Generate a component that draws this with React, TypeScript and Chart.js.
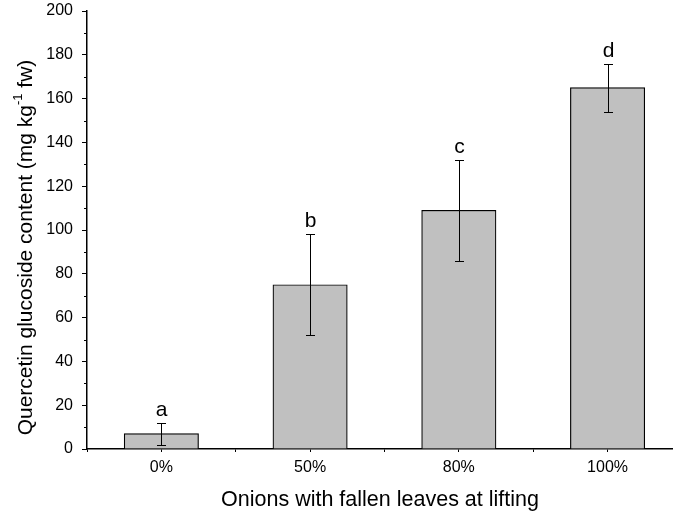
import React, { useEffect, useRef } from 'react';
import { Chart, registerables } from 'chart.js';

Chart.register(...registerables);

const categories = ['0%', '50%', '80%', '100%'];
const means = [7, 75, 109, 165];
const errors = [5, 23, 23, 11];
const letters = ['a', 'b', 'c', 'd'];
const xTitle = 'Onions with fallen leaves at lifting';
const yTitleMain = 'Quercetin glucoside content (mg kg';
const yTitleSup = '-1';
const yTitleEnd = ' fw)';

const FONT = "'Liberation Sans', Arial, sans-serif";

const annotPlugin = {
  id: 'annot',
  afterDraw(chart: any) {
    const { ctx, chartArea } = chart;
    const x = chart.scales.x;
    const y = chart.scales.y;
    ctx.save();
    ctx.strokeStyle = '#000';
    ctx.fillStyle = '#000';
    ctx.lineWidth = 1;
    // error bars + letters
    means.forEach((m, i) => {
      const px = Math.round(x.getPixelForValue(i + 1)) + 0.5;
      const top = Math.round(y.getPixelForValue(m + errors[i])) + 0.5;
      const bot = Math.round(y.getPixelForValue(m - errors[i])) + 0.5;
      ctx.beginPath();
      ctx.moveTo(px, top);
      ctx.lineTo(px, bot);
      ctx.moveTo(px - 4.5, top);
      ctx.lineTo(px + 4.5, top);
      ctx.moveTo(px - 4.5, bot);
      ctx.lineTo(px + 4.5, bot);
      ctx.stroke();
      ctx.font = `21px ${FONT}`;
      ctx.textAlign = 'center';
      ctx.textBaseline = 'alphabetic';
      ctx.fillText(letters[i], px, top - 8);
    });
    // minor y ticks
    ctx.beginPath();
    for (let v = 10; v < 200; v += 20) {
      const py = Math.round(y.getPixelForValue(v)) + 0.5;
      ctx.moveTo(chartArea.left - 3, py);
      ctx.lineTo(chartArea.left, py);
    }
    ctx.stroke();
    // x title
    ctx.font = `21.5px ${FONT}`;
    ctx.textAlign = 'center';
    ctx.textBaseline = 'middle';
    ctx.fillText(xTitle, (chartArea.left + chartArea.right) / 2, 500);
    // y title with superscript
    ctx.translate(26, 247.5);
    ctx.rotate(-Math.PI / 2);
    ctx.textAlign = 'left';
    ctx.textBaseline = 'middle';
    const mainFont = `21px ${FONT}`;
    const supFont = `13px ${FONT}`;
    ctx.font = mainFont;
    const w1 = ctx.measureText(yTitleMain).width;
    const w3 = ctx.measureText(yTitleEnd).width;
    ctx.font = supFont;
    const w2 = ctx.measureText(yTitleSup).width;
    const total = w1 + w2 + w3;
    let cx = -total / 2;
    ctx.font = mainFont;
    ctx.fillText(yTitleMain, cx, 0);
    cx += w1;
    ctx.font = supFont;
    ctx.fillText(yTitleSup, cx, -8);
    cx += w2;
    ctx.font = mainFont;
    ctx.fillText(yTitleEnd, cx, 0);
    ctx.restore();
  },
};

export default function App() {
  const ref = useRef<HTMLCanvasElement>(null);
  useEffect(() => {
    if (!ref.current) return;
    Chart.defaults.font.family = FONT;
    Chart.defaults.color = '#000';
    const chart = new Chart(ref.current, {
      type: 'bar',
      data: {
        datasets: [
          {
            data: means.map((v, i) => ({ x: i + 1, y: v })),
            backgroundColor: '#c0c0c0',
            borderColor: '#000',
            borderWidth: 1.2,
            categoryPercentage: 1,
            barPercentage: 1,
          } as any,
        ],
      },
      options: {
        animation: false,
        responsive: false,
        layout: { padding: { top: 11, left: 0, right: 0, bottom: 0 } },
        plugins: { legend: { display: false }, tooltip: { enabled: false } },
        scales: {
          x: {
            type: 'linear',
            offset: false,
            min: 0.5,
            max: 4.44,
            afterFit: (s: any) => {
              s.height = 64;
              s.paddingLeft = 0;
              s.paddingRight = 0;
            },
            grid: { offset: false, drawOnChartArea: false, drawTicks: true, tickLength: 3, color: '#000', tickColor: '#000' },
            border: { color: '#000', width: 1.5 },
            ticks: {
              stepSize: 0.5,
              includeBounds: false,
              autoSkip: false,
              maxRotation: 0,
              padding: 6,
              font: { size: 16 },
              callback: (v: any) => {
                const n = Number(v);
                return Number.isInteger(n) && n >= 1 && n <= categories.length ? categories[n - 1] : '';
              },
            },
          },
          y: {
            min: 0,
            max: 200,
            afterFit: (s: any) => {
              s.width = 87;
              s.paddingTop = 0;
              s.paddingBottom = 0;
            },
            grid: { drawOnChartArea: false, drawTicks: true, tickLength: 5, color: '#000', tickColor: '#000' },
            border: { color: '#000', width: 1.5 },
            ticks: { stepSize: 20, padding: 9, font: { size: 16 } },
          },
        },
      },
      plugins: [annotPlugin],
    } as any);
    return () => chart.destroy();
  }, []);
  return (
    <div style={{ position: 'absolute', left: 0, top: 0, width: 673, height: 513, background: '#fff' }}>
      <canvas ref={ref} width={673} height={513} style={{ display: 'block' }} />
    </div>
  );
}
